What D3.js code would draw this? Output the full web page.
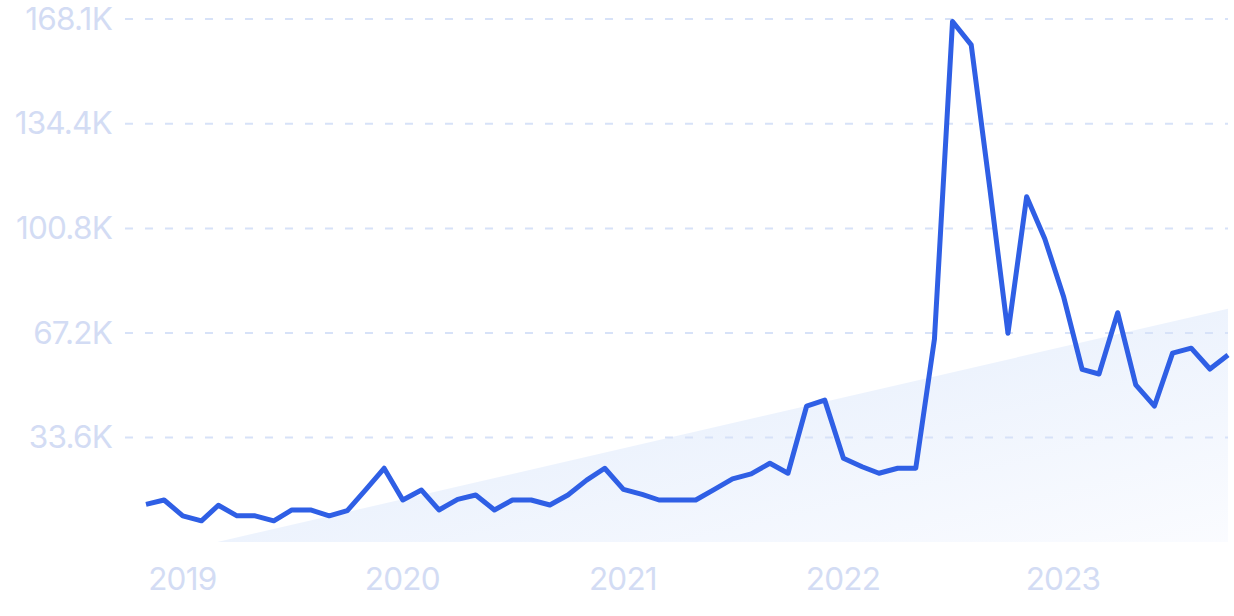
<!DOCTYPE html>
<html>
<head>
<meta charset="utf-8">
<script src="https://cdn.jsdelivr.net/npm/d3@7"></script>
<style>
html,body{margin:0;padding:0;background:#fff;}
svg{display:block;}
text{font-family:Inter,"Noto Sans",sans-serif;}
</style>
</head>
<body>
<svg id="chart" width="1234" height="616"></svg>
<script>
// ---- data ----
const startMonth = "2018-11";
const values = [
  12.1, 13.5, 8.4, 6.8, 11.8, 8.4, 8.4, 6.8, 10.3, 10.3, 8.4, 10.1,
  16.9, 23.7, 13.5, 16.7, 10.3, 13.7, 15.1, 10.3, 13.5, 13.5, 11.9, 15.1,
  19.9, 23.7, 16.9, 15.3, 13.5, 13.5, 13.5, 16.9, 20.3, 21.9, 25.3, 22.1,
  43.7, 45.6, 26.9, 24.2, 22.1, 23.7, 23.7, 65.2, 167.3, 159.8, 113.5, 67.1,
  111.0, 97.5, 79.0, 55.5, 54.0, 73.7, 50.5, 43.7, 60.7, 62.3, 55.6, 60.1
];
const trendEnds = [-5.3, 75.0];
const yTicks = [33.6, 67.2, 100.8, 134.4, 168.1];
const yTickLabels = ["33.6K", "67.2K", "100.8K", "134.4K", "168.1K"];
const xTickYears = [2019, 2020, 2021, 2022, 2023];

// ---- build ----
const parse = d3.utcParse("%Y-%m");
const t0 = parse(startMonth);
const dates = values.map((v, i) => d3.utcMonth.offset(t0, i));
const data = values.map((v, i) => ({date: dates[i], value: v}));
const trend = [
  {date: dates[0], value: trendEnds[0]},
  {date: dates[dates.length - 1], value: trendEnds[1]}
];

const svg = d3.select("#chart");
const x = d3.scaleUtc().domain([dates[0], dates[dates.length - 1]]).range([146, 1228]);
const y = d3.scaleLinear().domain([0, 168.1]).range([542, 19]);

const defs = svg.append("defs");
const grad = defs.append("linearGradient").attr("id", "fillGrad")
  .attr("x1", "0").attr("y1", "0").attr("x2", "1").attr("y2", "1");
grad.append("stop").attr("offset", "0%").attr("stop-color", "#dfeafb");
grad.append("stop").attr("offset", "100%").attr("stop-color", "#fbfcff");
defs.append("clipPath").attr("id", "plotClip").append("rect")
  .attr("x", x.range()[0]).attr("y", 0)
  .attr("width", x.range()[1] - x.range()[0]).attr("height", y(0));

// trend area
const area = d3.area().x(d => x(d.date)).y0(y(0)).y1(d => y(d.value));
svg.append("path").datum(trend)
  .attr("d", area)
  .attr("fill", "url(#fillGrad)")
  .attr("clip-path", "url(#plotClip)");

// y grid + labels
const yAxis = d3.axisLeft(y).tickValues(yTicks)
  .tickFormat((d, i) => yTickLabels[i])
  .tickSize(0).tickPadding(0);
const gy = svg.append("g").attr("transform", "translate(112,0)").call(yAxis);
gy.select(".domain").remove();
gy.selectAll("text")
  .attr("x", 0)
  .attr("fill", "#d3dcf4")
  .style("font-size", "31.5px")
  .style("letter-spacing", "-0.8px")
  .attr("text-anchor", "end");
const grid = svg.append("g");
grid.selectAll("line").data(yTicks).join("line")
  .attr("x1", 125).attr("x2", 1228)
  .attr("y1", d => y(d)).attr("y2", d => y(d))
  .attr("stroke", "#d7e2f8").attr("stroke-width", 2)
  .attr("stroke-dasharray", "8,12");

// x axis labels
const xAxis = d3.axisBottom(x)
  .tickValues(xTickYears.map(yr => d3.utcParse("%Y")(String(yr))))
  .tickFormat(d3.utcFormat("%Y"))
  .tickSize(0).tickPadding(0);
const gx = svg.append("g").attr("transform", "translate(-1,567)").call(xAxis);
gx.select(".domain").remove();
gx.selectAll("text")
  .attr("y", 0).attr("dy", "0.72em")
  .attr("fill", "#d3dcf4")
  .style("font-size", "31.5px")
  .style("letter-spacing", "-0.8px");

// line
const line = d3.line().x(d => x(d.date)).y(d => y(d.value));
svg.append("path").datum(data)
  .attr("d", line)
  .attr("fill", "none")
  .attr("stroke", "#2f5fe5")
  .attr("stroke-width", 5)
  .attr("stroke-linejoin", "round");
</script>
</body>
</html>
